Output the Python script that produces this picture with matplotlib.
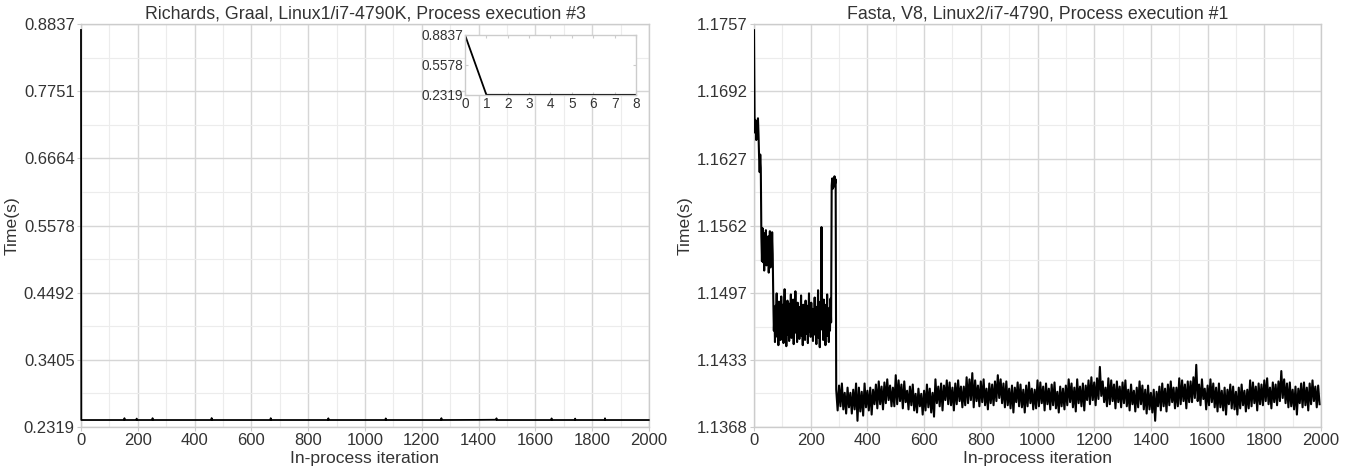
import numpy as np
import matplotlib
matplotlib.use("Agg")
import matplotlib.pyplot as plt
from matplotlib.ticker import FixedLocator, MultipleLocator

plt.rcParams['font.family'] = ['Liberation Sans', 'DejaVu Sans']

# ---------------- Richards (left) ----------------
richards_title = "Richards, Graal, Linux1/i7-4790K, Process execution #3"
richards_yticks = [0.2319, 0.3405, 0.4492, 0.5578, 0.6664, 0.7751, 0.8837]
# vertices of the (flat) in-process line
richards_iters = [0, 1, 152, 153, 154, 195, 196, 197, 251, 252, 253, 459, 460, 461,
                  667, 668, 669, 870, 871, 872, 1072, 1073, 1074, 1268, 1269, 1270,
                  1400, 1462, 1463, 1464, 1656, 1657, 1658, 1739, 1740, 1741,
                  1844, 1845, 1846, 1999]
richards_times = [0.8740, 0.2432, 0.2432, 0.2462, 0.2432, 0.2432, 0.2455, 0.2432, 0.2432, 0.2462, 0.2432,
                  0.2432, 0.2464, 0.2432, 0.2432, 0.2462, 0.2432, 0.2432, 0.2460, 0.2432,
                  0.2432, 0.2458, 0.2432, 0.2432, 0.2462, 0.2432, 0.2434, 0.2436, 0.2460, 0.2432,
                  0.2432, 0.2458, 0.2432, 0.2432, 0.2455, 0.2432, 0.2432, 0.2460, 0.2432, 0.2432]
inset_iters = [0, 1, 2, 3, 4, 5, 6, 7, 8]
inset_times = [0.8837, 0.2340, 0.2338, 0.2337, 0.2337, 0.2336, 0.2336, 0.2336, 0.2336]
inset_yticks = [0.2319, 0.5578, 0.8837]

# ---------------- Fasta (right) ----------------
fasta_title = "Fasta, V8, Linux2/i7-4790, Process execution #1"
fasta_yticks = [1.1368, 1.1433, 1.1497, 1.1562, 1.1627, 1.1692, 1.1757]

# iterations 0..288 sampled every 2 iterations
fasta_start_a = 0
fasta_times_a = [
    1.1751, 1.1668, 1.1652, 1.1664, 1.1645, 1.1660, 1.1648, 1.1666, 1.1650, 1.1628,
    1.1614, 1.1631, 1.1618, 1.1552, 1.1528,
    1.1560, 1.1527, 1.1548, 1.1519, 1.1555, 1.1532, 1.1558, 1.1524, 1.1545, 1.1529,
    1.1552, 1.1517, 1.1540, 1.1557, 1.1522, 1.1548, 1.1530, 1.1556, 1.1535,
    1.1492, 1.1461, 1.1478, 1.1450, 1.1485, 1.1466, 1.1497, 1.1455, 1.1472, 1.1447,
    1.1489, 1.1463, 1.1480, 1.1452, 1.1494, 1.1470, 1.1458, 1.1486, 1.1449, 1.1477,
    1.1501, 1.1460, 1.1483, 1.1446, 1.1471, 1.1490, 1.1457, 1.1479, 1.1451, 1.1487,
    1.1468, 1.1496, 1.1454, 1.1475, 1.1462, 1.1491, 1.1448, 1.1482, 1.1466, 1.1499,
    1.1459, 1.1476, 1.1450, 1.1488, 1.1469, 1.1484, 1.1453, 1.1478, 1.1461, 1.1495,
    1.1456, 1.1473, 1.1447, 1.1486, 1.1464, 1.1481, 1.1452, 1.1490, 1.1467, 1.1458,
    1.1485, 1.1449, 1.1474, 1.1497, 1.1460, 1.1479, 1.1455, 1.1488, 1.1465, 1.1482,
    1.1451, 1.1476, 1.1463, 1.1493, 1.1457, 1.1471, 1.1448, 1.1484, 1.1468, 1.1500,
    1.1454, 1.1477, 1.1445, 1.1489, 1.1462, 1.1561, 1.1466, 1.1480, 1.1452, 1.1491,
    1.1459, 1.1474, 1.1447, 1.1486, 1.1463, 1.1496, 1.1456, 1.1478, 1.1450, 1.1483,
    1.1461, 1.1492, 1.1469,
    1.1601, 1.1608, 1.1598, 1.1606, 1.1600, 1.1610, 1.1603, 1.1607,
]
fasta_step_a = 2

# iterations 290..1995 sampled every 5 iterations
fasta_start_b = 290
fasta_times_b = [
    1.1404, 1.1384, 1.1408, 1.1388, 1.1410, 1.1385, 1.1401, 1.1381, 1.1406, 1.1387,
    1.1401, 1.1381, 1.1404, 1.1385, 1.1410, 1.1374, 1.1406, 1.1383, 1.1402, 1.1379,
    1.1410, 1.1387, 1.1403, 1.1384, 1.1406, 1.1380, 1.1404, 1.1390, 1.1409, 1.1386,
    1.1412, 1.1390, 1.1407, 1.1385, 1.1411, 1.1391, 1.1414, 1.1394, 1.1408, 1.1388,
    1.1406, 1.1388, 1.1418, 1.1390, 1.1413, 1.1393, 1.1409, 1.1386, 1.1412, 1.1392,
    1.1403, 1.1385, 1.1407, 1.1389, 1.1409, 1.1384, 1.1400, 1.1382, 1.1405, 1.1388,
    1.1400, 1.1380, 1.1403, 1.1384, 1.1409, 1.1387, 1.1405, 1.1382, 1.1401, 1.1378,
    1.1414, 1.1391, 1.1407, 1.1388, 1.1410, 1.1384, 1.1408, 1.1394, 1.1413, 1.1390,
    1.1411, 1.1389, 1.1406, 1.1384, 1.1410, 1.1390, 1.1413, 1.1393, 1.1407, 1.1387,
    1.1407, 1.1389, 1.1416, 1.1391, 1.1414, 1.1394, 1.1420, 1.1387, 1.1413, 1.1393,
    1.1408, 1.1388, 1.1412, 1.1392, 1.1414, 1.1389, 1.1405, 1.1385, 1.1410, 1.1391,
    1.1409, 1.1389, 1.1412, 1.1393, 1.1418, 1.1396, 1.1414, 1.1391, 1.1410, 1.1387,
    1.1412, 1.1389, 1.1405, 1.1386, 1.1408, 1.1382, 1.1406, 1.1392, 1.1411, 1.1388,
    1.1409, 1.1387, 1.1404, 1.1382, 1.1408, 1.1388, 1.1411, 1.1391, 1.1405, 1.1385,
    1.1404, 1.1386, 1.1413, 1.1388, 1.1411, 1.1391, 1.1407, 1.1384, 1.1410, 1.1390,
    1.1405, 1.1385, 1.1409, 1.1389, 1.1411, 1.1386, 1.1402, 1.1382, 1.1407, 1.1388,
    1.1405, 1.1385, 1.1408, 1.1389, 1.1414, 1.1392, 1.1410, 1.1387, 1.1406, 1.1383,
    1.1414, 1.1391, 1.1407, 1.1388, 1.1410, 1.1384, 1.1408, 1.1394, 1.1413, 1.1390,
    1.1416, 1.1394, 1.1411, 1.1389, 1.1415, 1.1395, 1.1426, 1.1398, 1.1412, 1.1392,
    1.1406, 1.1388, 1.1415, 1.1390, 1.1413, 1.1393, 1.1409, 1.1386, 1.1412, 1.1392,
    1.1407, 1.1387, 1.1411, 1.1391, 1.1413, 1.1388, 1.1404, 1.1384, 1.1409, 1.1390,
    1.1403, 1.1383, 1.1406, 1.1387, 1.1412, 1.1390, 1.1408, 1.1385, 1.1404, 1.1381,
    1.1408, 1.1385, 1.1401, 1.1382, 1.1404, 1.1374, 1.1402, 1.1388, 1.1407, 1.1384,
    1.1410, 1.1388, 1.1405, 1.1383, 1.1409, 1.1389, 1.1412, 1.1392, 1.1406, 1.1386,
    1.1406, 1.1388, 1.1415, 1.1390, 1.1413, 1.1393, 1.1409, 1.1386, 1.1412, 1.1392,
    1.1412, 1.1392, 1.1416, 1.1396, 1.1428, 1.1393, 1.1409, 1.1389, 1.1414, 1.1395,
    1.1405, 1.1385, 1.1408, 1.1389, 1.1414, 1.1392, 1.1410, 1.1387, 1.1406, 1.1383,
    1.1410, 1.1387, 1.1403, 1.1384, 1.1406, 1.1380, 1.1404, 1.1390, 1.1409, 1.1386,
    1.1407, 1.1385, 1.1402, 1.1380, 1.1406, 1.1386, 1.1409, 1.1389, 1.1403, 1.1383,
    1.1404, 1.1386, 1.1413, 1.1388, 1.1411, 1.1391, 1.1407, 1.1384, 1.1410, 1.1390,
    1.1409, 1.1389, 1.1413, 1.1393, 1.1415, 1.1390, 1.1406, 1.1386, 1.1411, 1.1392,
    1.1409, 1.1389, 1.1412, 1.1393, 1.1422, 1.1396, 1.1414, 1.1391, 1.1410, 1.1387,
    1.1411, 1.1388, 1.1404, 1.1385, 1.1407, 1.1380, 1.1405, 1.1391, 1.1410, 1.1387,
    1.1411, 1.1389, 1.1406, 1.1384, 1.1410, 1.1390, 1.1413, 1.1393, 1.1407, 1.1387,
    1.1408, 1.1390,
]
fasta_step_b = 5

x_label = "In-process iteration"
y_label = "Time(s)"
x_ticks = list(range(0, 2001, 200))

TXT = "#333333"
GRID_MAJ = "#d6d6d6"
GRID_MIN = "#ececec"
SPINE = "#cccccc"

fig = plt.figure(figsize=(13.56, 4.71), dpi=100)
axL = fig.add_axes([81 / 1356, 1 - 427 / 471, 568 / 1356, 403 / 471])
axR = fig.add_axes([754 / 1356, 1 - 427 / 471, 567 / 1356, 403 / 471])


def style(ax, yticks, title):
    ax.set_xlim(0, 2000)
    ax.set_ylim(yticks[0], yticks[-1])
    ax.yaxis.set_major_locator(FixedLocator(yticks))
    ax.set_yticklabels([f"{v:.4f}" for v in yticks])
    mids = [(a + b) / 2 for a, b in zip(yticks[:-1], yticks[1:])]
    ax.yaxis.set_minor_locator(FixedLocator(mids))
    ax.xaxis.set_major_locator(FixedLocator(x_ticks))
    ax.xaxis.set_minor_locator(MultipleLocator(100))
    ax.grid(True, which="major", color=GRID_MAJ, lw=1.0)
    ax.grid(True, which="minor", color=GRID_MIN, lw=0.8)
    ax.set_axisbelow(True)
    for s in ax.spines.values():
        s.set_color(SPINE)
        s.set_linewidth(1.0)
    ax.tick_params(which="major", length=3, color=SPINE, labelsize=12, labelcolor=TXT, pad=1.5)
    ax.tick_params(which="minor", length=0)
    ax.set_title(title, fontsize=12.8, color=TXT, pad=4)
    ax.set_xlabel(x_label, fontsize=12.6, color=TXT, labelpad=2)
    ax.set_ylabel(y_label, fontsize=12.6, color=TXT, labelpad=3)


style(axL, richards_yticks, richards_title)
style(axR, fasta_yticks, fasta_title)

axL.plot(richards_iters, richards_times, color="black", lw=1.3, clip_on=False, zorder=3)

fa_x = fasta_start_a + fasta_step_a * np.arange(len(fasta_times_a))
fb_x = fasta_start_b + fasta_step_b * np.arange(len(fasta_times_b))
fx = np.concatenate([fa_x, fb_x])
fy = np.concatenate([fasta_times_a, fasta_times_b])
axR.plot(fx, fy, color="black", lw=1.5, zorder=3)

# inset
axI = fig.add_axes([465 / 1356, 1 - 95 / 471, 171 / 1356, 60 / 471])
axI.plot(inset_iters, inset_times, color="black", lw=1.3)
axI.set_xlim(0, 8)
axI.set_ylim(inset_yticks[0], inset_yticks[-1])
axI.set_xticks(inset_iters)
axI.set_yticks(inset_yticks)
axI.set_yticklabels([f"{v:.4f}" for v in inset_yticks])
for s in axI.spines.values():
    s.set_color(SPINE)
    s.set_linewidth(1.0)
axI.tick_params(length=2, color=SPINE, labelsize=9.8, labelcolor=TXT, pad=1.5,
                top=True, right=True, direction="in")
axI.set_facecolor("white")

fig.savefig("out.png", dpi=100, facecolor="white")
